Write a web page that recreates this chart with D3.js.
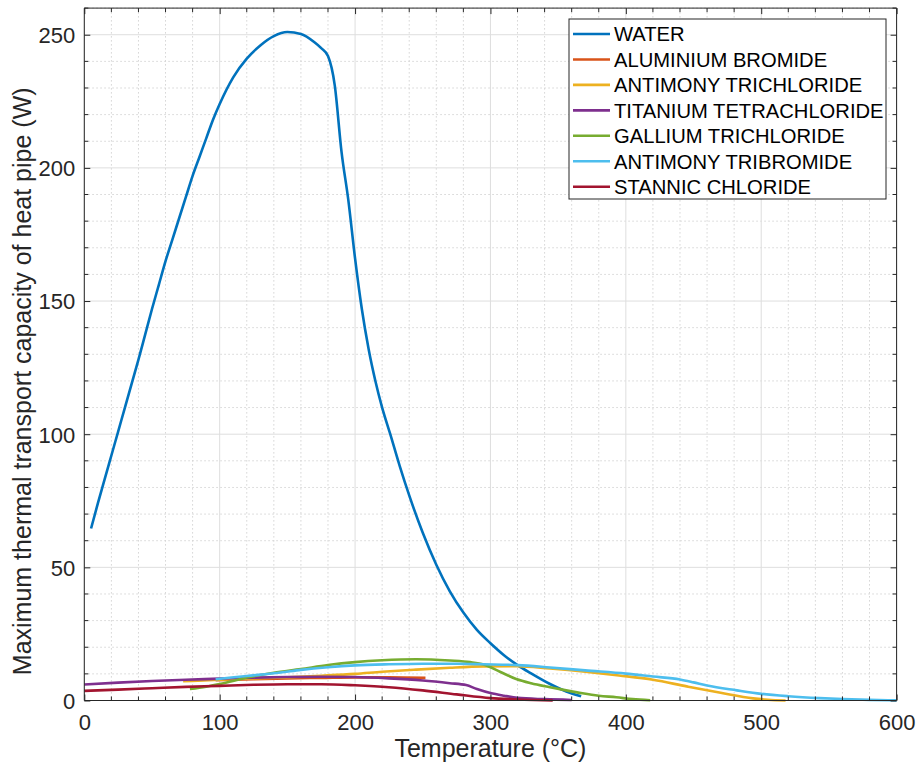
<!DOCTYPE html>
<html>
<head>
<meta charset="utf-8">
<script src="https://cdn.jsdelivr.net/npm/d3@7"></script>
<style>
  html, body { margin: 0; padding: 0; background: #ffffff; }
  svg { display: block; font-family: "Liberation Sans", Arial, Helvetica, sans-serif; }
</style>
</head>
<body>
<svg id="chart" width="917" height="772"></svg>
<script>
// ---------------- DATA ----------------
const seriesNames = ["WATER", "ALUMINIUM BROMIDE", "ANTIMONY TRICHLORIDE", "TITANIUM TETRACHLORIDE",
                     "GALLIUM TRICHLORIDE", "ANTIMONY TRIBROMIDE", "STANNIC CHLORIDE"];
const seriesColors = ["#0072BD", "#D95319", "#EDB120", "#7E2F8E", "#77AC30", "#4DBEEE", "#A2142F"];

const waterT = [5, 10, 15, 20, 25, 30, 35, 40, 45, 50, 55, 60, 65, 70, 75, 80, 85, 90, 95, 100, 110, 120, 130, 140, 150, 160, 170, 175, 180,
                185, 190, 195, 200, 205, 210, 215, 220, 226, 233, 240, 250, 260, 270, 280, 290, 300, 310, 320, 330, 344, 356, 367];
const waterW = [64.6, 74, 83, 92, 101, 110, 119, 128, 137.5, 147, 156, 165, 173, 181, 189, 197, 204, 211, 218, 224, 234, 241, 246, 249.5, 251, 250.3, 247.2, 245, 242,
                231, 206, 188, 166, 147, 132, 120, 110, 100, 88, 77, 63, 51, 41, 33, 26.5, 21.5, 17, 13.3, 10.2, 6.2, 3.4, 1.6];

const alBr3T = [97, 125, 150, 175, 200, 225, 252];
const alBr3W = [7.6, 8.0, 8.3, 8.5, 8.7, 8.7, 8.5];

const sbCl3T = [73, 100, 125, 150, 175, 200, 220, 245, 270, 295, 320, 344, 370, 395, 420, 445, 470, 494, 505, 518];
const sbCl3W = [7.2, 7.8, 8.3, 8.7, 9.3, 10.0, 10.8, 11.6, 12.3, 12.8, 12.9, 12.0, 10.8, 9.4, 7.8, 5.3, 2.9, 0.8, 0.3, 0.0];

const tiCl4T = [0, 25, 50, 75, 100, 125, 150, 175, 200, 225, 250, 270, 282, 290, 300, 310, 320, 340, 360];
const tiCl4W = [6.0, 6.7, 7.3, 7.8, 8.2, 8.6, 8.8, 8.9, 8.8, 8.3, 7.5, 6.5, 5.8, 4.3, 2.8, 1.8, 1.0, 0.5, 0.2];

const gaCl3T = [78, 90, 100, 122, 140, 160, 180, 200, 220, 245, 270, 285, 295, 307, 319, 330, 344, 356, 368, 380, 393, 405, 418];
const gaCl3W = [4.3, 5.2, 6.2, 8.8, 10.4, 11.8, 13.3, 14.4, 15.1, 15.5, 15.0, 14.4, 13.5, 10.8, 8.1, 6.5, 5.0, 3.8, 2.7, 1.8, 1.2, 0.5, 0.1];

const sbBr3T = [97, 120, 145, 160, 180, 200, 225, 250, 275, 295, 320, 344, 370, 400, 420, 440, 450, 460, 482, 500, 520, 543, 560, 580, 600];
const sbBr3W = [8.0, 9.2, 10.5, 11.5, 12.5, 13.2, 13.6, 13.8, 13.8, 13.6, 13.3, 12.4, 11.3, 10.1, 9.0, 7.9, 6.8, 5.6, 3.8, 2.5, 1.6, 0.9, 0.55, 0.25, 0.05];

const snCl4T = [0, 25, 50, 75, 100, 125, 150, 175, 200, 225, 250, 275, 300, 325, 346];
const snCl4W = [3.6, 4.1, 4.6, 5.1, 5.5, 5.9, 6.1, 6.1, 5.7, 5.0, 3.8, 2.3, 0.9, 0.3, 0.0];

const xTicks = [0, 100, 200, 300, 400, 500, 600];
const yTicks = [0, 50, 100, 150, 200, 250];
const xLabel = "Temperature (°C)";
const yLabel = "Maximum thermal transport capacity of heat pipe (W)";

const seriesT = [waterT, alBr3T, sbCl3T, tiCl4T, gaCl3T, sbBr3T, snCl4T];
const seriesW = [waterW, alBr3W, sbCl3W, tiCl4W, gaCl3W, sbBr3W, snCl4W];

// ---------------- LAYOUT ----------------
const pLeft = 84.3, pRight = 896.6, pTop = 8.1, pBottom = 700.5;
const svg = d3.select("#chart");

const x = d3.scaleLinear().domain([0, 600]).range([pLeft, pRight]);
const y = d3.scaleLinear().domain([0, 260]).range([pBottom, pTop]);

const minorX = d3.range(0, 601, 20).filter(v => v % 100 !== 0);
const minorY = d3.range(0, 261, 10).filter(v => v % 50 !== 0);
const majorY = d3.range(0, 261, 50);

svg.append("rect").attr("x", pLeft).attr("y", pTop).attr("width", pRight - pLeft).attr("height", pBottom - pTop)
  .attr("fill", "#ffffff");

// minor grid
const g = svg.append("g");
g.selectAll(".mgx").data(minorX).enter().append("line")
  .attr("x1", d => x(d)).attr("x2", d => x(d)).attr("y1", pTop).attr("y2", pBottom)
  .attr("stroke", "#d4d4d4").attr("stroke-width", 1).attr("stroke-dasharray", "1.5,2.5");
g.selectAll(".mgy").data(minorY).enter().append("line")
  .attr("y1", d => y(d)).attr("y2", d => y(d)).attr("x1", pLeft).attr("x2", pRight)
  .attr("stroke", "#d4d4d4").attr("stroke-width", 1).attr("stroke-dasharray", "1.5,2.5");
// major grid
g.selectAll(".Mgx").data(xTicks).enter().append("line")
  .attr("x1", d => x(d)).attr("x2", d => x(d)).attr("y1", pTop).attr("y2", pBottom)
  .attr("stroke", "#dedede").attr("stroke-width", 1);
g.selectAll(".Mgy").data(majorY).enter().append("line")
  .attr("y1", d => y(d)).attr("y2", d => y(d)).attr("x1", pLeft).attr("x2", pRight)
  .attr("stroke", "#dedede").attr("stroke-width", 1);

// lines
const line = d3.line().x(d => x(d[0])).y(d => y(d[1])).curve(d3.curveMonotoneX);
const plot = svg.append("g");
seriesNames.forEach((name, i) => {
  const pts = seriesT[i].map((t, k) => [t, seriesW[i][k]]);
  plot.append("path").datum(pts)
    .attr("d", line)
    .attr("fill", "none")
    .attr("stroke", seriesColors[i])
    .attr("stroke-width", 2.6)
    .attr("stroke-linejoin", "round");
});

// axes (ticks inside, box on all sides)
const axisColor = "#262626";
const axB = d3.axisBottom(x).tickValues(xTicks).tickSize(-6).tickFormat(d3.format("d"));
const axT = d3.axisTop(x).tickValues(xTicks).tickSize(-6).tickFormat("");
const axL = d3.axisLeft(y).tickValues(yTicks).tickSize(-6).tickFormat(d3.format("d"));
const axR = d3.axisRight(y).tickValues(yTicks).tickSize(-6).tickFormat("");

function styleAxis(sel) {
  sel.select(".domain").attr("stroke", axisColor).attr("stroke-width", 1);
  sel.selectAll(".tick line").attr("stroke", axisColor).attr("stroke-width", 1);
  sel.selectAll(".tick text").attr("fill", axisColor).style("font-size", "22px")
    .style("font-family", "'Liberation Sans', Arial, Helvetica, sans-serif");
}
const gB = svg.append("g").attr("transform", `translate(0,${pBottom})`).call(axB);
gB.select(".domain").attr("d", `M${pLeft},0H${pRight}`);
styleAxis(gB);
gB.selectAll(".tick text").attr("dy", null).attr("y", 29);
const gT = svg.append("g").attr("transform", `translate(0,${pTop})`).call(axT);
gT.select(".domain").attr("d", `M${pLeft},0H${pRight}`);
styleAxis(gT);
const gL = svg.append("g").attr("transform", `translate(${pLeft},0)`).call(axL);
gL.select(".domain").attr("d", `M0,${pTop}V${pBottom}`);
styleAxis(gL);
gL.selectAll(".tick text").attr("x", -9).attr("dy", "0.36em");
const gR = svg.append("g").attr("transform", `translate(${pRight},0)`).call(axR);
gR.select(".domain").attr("d", `M0,${pTop}V${pBottom}`);
styleAxis(gR);

// minor ticks
const mt = svg.append("g").attr("stroke", axisColor).attr("stroke-width", 1);
minorX.forEach(v => {
  mt.append("line").attr("x1", x(v)).attr("x2", x(v)).attr("y1", pBottom).attr("y2", pBottom - 4);
  mt.append("line").attr("x1", x(v)).attr("x2", x(v)).attr("y1", pTop).attr("y2", pTop + 4);
});
minorY.forEach(v => {
  mt.append("line").attr("y1", y(v)).attr("y2", y(v)).attr("x1", pLeft).attr("x2", pLeft + 4);
  mt.append("line").attr("y1", y(v)).attr("y2", y(v)).attr("x1", pRight).attr("x2", pRight - 4);
});

// axis labels
svg.append("text").attr("x", (pLeft + pRight) / 2).attr("y", 757)
  .attr("text-anchor", "middle").attr("fill", axisColor)
  .style("font-size", "25px").text(xLabel);
svg.append("text").attr("transform", `translate(31,${(pTop + pBottom) / 2 + 27}) rotate(-90)`)
  .attr("text-anchor", "middle").attr("fill", axisColor)
  .style("font-size", "25px").text(yLabel);

// legend
const lg = svg.append("g");
const lgX = 569, lgY = 19, lgW = 317, lgH = 180, rowH = 25.45, row0 = 34;
lg.append("rect").attr("x", lgX).attr("y", lgY).attr("width", lgW).attr("height", lgH)
  .attr("fill", "#ffffff").attr("stroke", axisColor).attr("stroke-width", 1);
seriesNames.forEach((name, i) => {
  const cy = row0 + i * rowH;
  lg.append("line").attr("x1", 573).attr("x2", 610).attr("y1", cy).attr("y2", cy)
    .attr("stroke", seriesColors[i]).attr("stroke-width", 2.6);
  lg.append("text").attr("x", 614).attr("y", cy).attr("dy", "0.36em")
    .attr("fill", "#000000").style("font-size", "20.2px").text(name);
});
</script>
</body>
</html>
